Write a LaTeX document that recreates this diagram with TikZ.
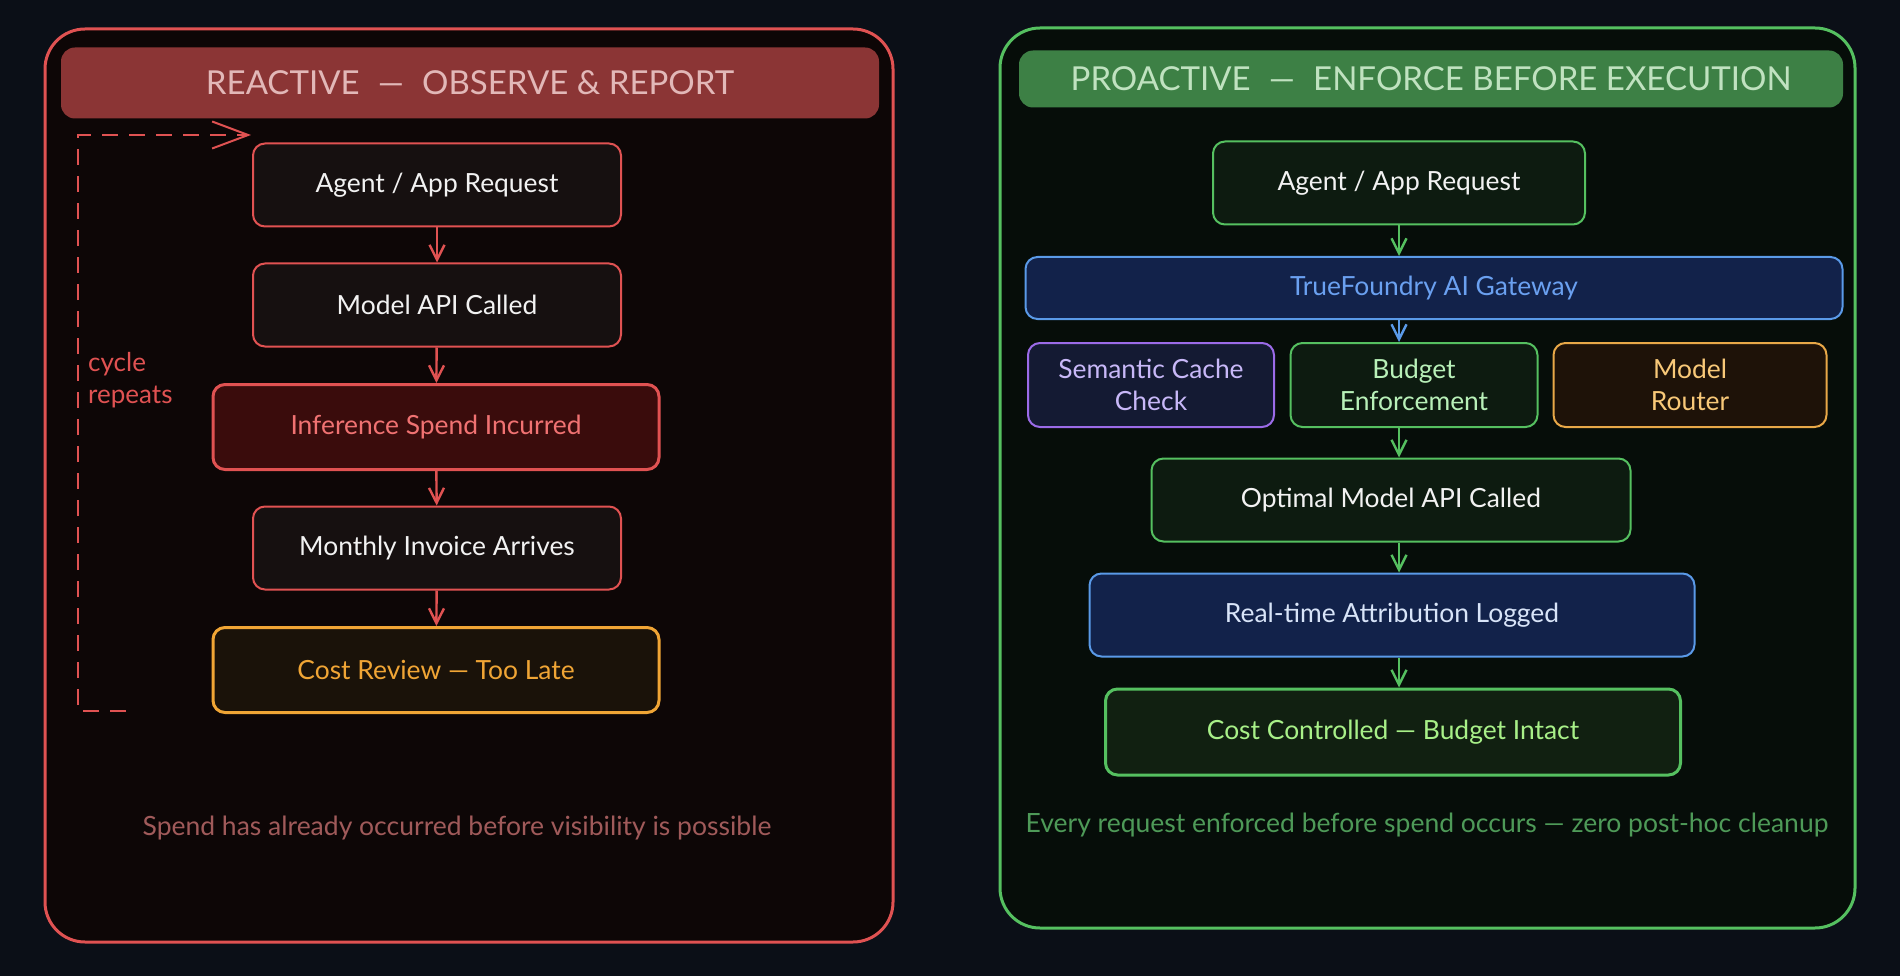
\documentclass[tikz,border=0pt]{standalone}
\usepackage{fontspec}
\setmainfont{Lato}
\usetikzlibrary{arrows.meta}
\definecolor{bg}{HTML}{0B0F17}
\definecolor{lpanel}{HTML}{0D0606}
\definecolor{rpanel}{HTML}{060D09}
\definecolor{red}{HTML}{E05252}
\definecolor{redhead}{HTML}{8B3535}
\definecolor{redheadtxt}{HTML}{E2B8B8}
\definecolor{lnodefill}{HTML}{161010}
\definecolor{inffill}{HTML}{3A0C0C}
\definecolor{inftxt}{HTML}{F07272}
\definecolor{crfill}{HTML}{1A1209}
\definecolor{orange}{HTML}{F0A535}
\definecolor{lnote}{HTML}{A05A5A}
\definecolor{green}{HTML}{55C060}
\definecolor{greenhead}{HTML}{3D8045}
\definecolor{greenheadtxt}{HTML}{C0E2C0}
\definecolor{rnodefill}{HTML}{0D1B10}
\definecolor{gwfill}{HTML}{12224A}
\definecolor{blue}{HTML}{5A9AE8}
\definecolor{gwtxt}{HTML}{6AA0F0}
\definecolor{semfill}{HTML}{141A33}
\definecolor{purple}{HTML}{9B6BE8}
\definecolor{semtxt}{HTML}{C8B8F8}
\definecolor{budtxt}{HTML}{B8F0B8}
\definecolor{routfill}{HTML}{1E1208}
\definecolor{routborder}{HTML}{E8A848}
\definecolor{routtxt}{HTML}{F8C878}
\definecolor{rttxt}{HTML}{D8E4F8}
\definecolor{ccfill}{HTML}{112011}
\definecolor{cctxt}{HTML}{A8F088}
\definecolor{rnote}{HTML}{4E9A58}
\definecolor{nodetxt}{HTML}{F2F2F2}
\tikzset{
  box/.style={rounded corners=12pt, line width=2pt, inner sep=0pt, align=center,
    font=\fontsize{26.4}{32}\selectfont, text=nodetxt},
  lbox/.style={box, draw=red, fill=lnodefill},
  rbox/.style={box, draw=green, fill=rnodefill},
  arr/.style={line width=2.4pt, -{Straight Barb[length=15pt,width=15pt,line width=2.4pt]}},
  headbar/.style={rounded corners=14pt, inner sep=0pt, font=\fontsize{33}{38}\selectfont},
  note/.style={font=\fontsize{26.5}{30}\selectfont, inner sep=0pt}
}
\begin{document}
\begin{tikzpicture}[x=1pt,y=-1pt]
\fill[bg] (0,0) rectangle (1900,976);
\useasboundingbox (0,0) rectangle (1900,976);
% ---------- left panel ----------
\draw[red, fill=lpanel, line width=3pt, rounded corners=40pt] (45,29) rectangle (893,942);
\node[headbar, fill=redhead, minimum width=818pt, minimum height=71pt, text=redheadtxt] (lh) at (470,83)
  {REACTIVE\hspace{0.55em}—\hspace{0.55em}OBSERVE \& REPORT};
\node[lbox, minimum width=368pt, minimum height=83pt] (la) at (437,185) {Agent / App Request};
\node[lbox, minimum width=368pt, minimum height=83pt] (lm) at (437,305) {Model API Called};
\node[box, draw=red, fill=inffill, line width=3pt, text=inftxt, minimum width=446pt, minimum height=85pt] (li) at (436,427) {Inference Spend Incurred};
\node[lbox, minimum width=368pt, minimum height=83pt] (lv) at (437,548) {Monthly Invoice Arrives};
\node[box, draw=orange, fill=crfill, line width=3pt, text=orange, minimum width=446pt, minimum height=85pt] (lc) at (436,670) {Cost Review — Too Late};
\draw[arr, red] (la) -- (lm);
\draw[arr, red] (lm) -- (li);
\draw[arr, red] (li) -- (lv);
\draw[arr, red] (lv) -- (lc);
\coordinate (loopstart) at (126,711);
\coordinate (loopend) at (251,135);
\draw[red, line width=2pt, dash pattern=on 16pt off 11pt,
  -{Straight Barb[length=36pt,width=27pt,line width=2pt]}]
  (loopstart) -- (78,711) -- (78,135) -- (loopend);
\node[anchor=north west, align=left, text=red, font=\fontsize{26}{32}\selectfont, inner sep=0pt] (cyc) at (88,352) {cycle\\repeats};
\node[note, text=lnote] (ln) at (457,828) {Spend has already occurred before visibility is possible};
% ---------- right panel ----------
\draw[green, fill=rpanel, line width=3pt, rounded corners=40pt] (1000,28) rectangle (1855,928);
\node[headbar, fill=greenhead, minimum width=824pt, minimum height=57pt, text=greenheadtxt] (rh) at (1431,79)
  {PROACTIVE\hspace{0.55em}—\hspace{0.55em}ENFORCE BEFORE EXECUTION};
\node[rbox, minimum width=372pt, minimum height=83pt] (ra) at (1399,183) {Agent / App Request};
\node[box, draw=blue, fill=gwfill, text=gwtxt, minimum width=817pt, minimum height=62pt] (gw) at (1434,288) {TrueFoundry AI Gateway};
\node[box, draw=purple, fill=semfill, text=semtxt, minimum width=246pt, minimum height=84pt] (sc) at (1151,385) {Semantic Cache\\Check};
\node[rbox, text=budtxt, minimum width=247pt, minimum height=84pt] (be) at (1414,385) {Budget\\Enforcement};
\node[box, draw=routborder, fill=routfill, text=routtxt, minimum width=273pt, minimum height=84pt] (mr) at (1690,385) {Model\\Router};
\node[rbox, minimum width=479pt, minimum height=83pt] (om) at (1391,500) {Optimal Model API Called};
\node[box, draw=blue, fill=gwfill, text=rttxt, minimum width=605pt, minimum height=83pt] (rt) at (1392,615) {Real-time Attribution Logged};
\node[box, draw=green, fill=ccfill, line width=3pt, text=cctxt, minimum width=575pt, minimum height=86pt] (cc) at (1393,732) {Cost Controlled — Budget Intact};
\draw[arr, green] (ra.south) -- (ra.south |- gw.north);
\draw[arr, blue] (gw.south -| ra.south) -- (be.north -| ra.south);
\draw[arr, green] (be.south -| ra.south) -- (om.north -| ra.south);
\draw[arr, green] (om.south -| ra.south) -- (rt.north -| ra.south);
\draw[arr, green] (rt.south -| ra.south) -- (cc.north -| ra.south);
\node[note, text=rnote] (rn) at (1427,825) {Every request enforced before spend occurs — zero post-hoc cleanup};
\end{tikzpicture}
\end{document}
